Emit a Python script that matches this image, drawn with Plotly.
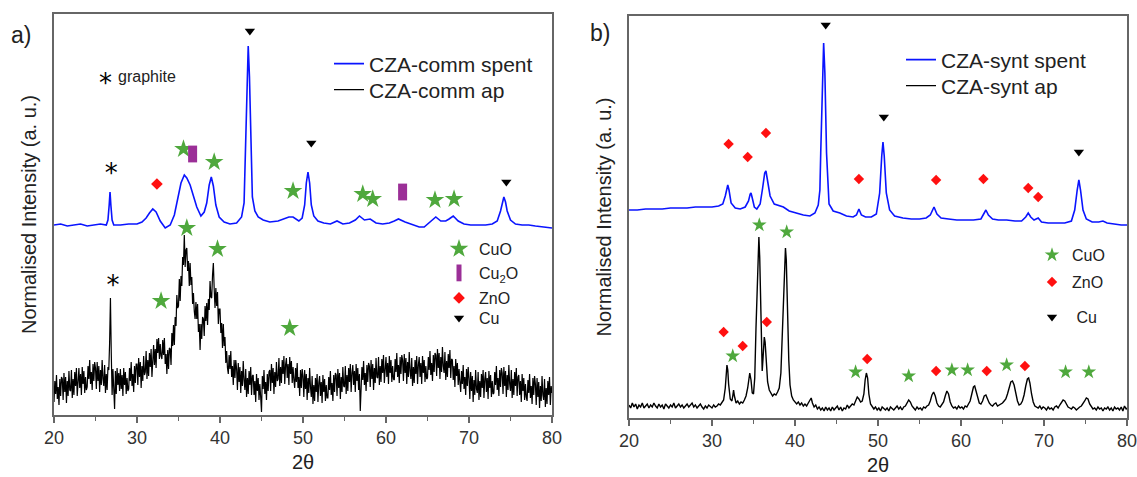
import numpy as np
import plotly.graph_objects as go

FONT = "Liberation Sans, Arial, sans-serif"
W, H = 1137, 477

# ---------------- a) CZA-comm ----------------
comm_spent_2theta = [
    20.0, 20.8, 21.6, 22.4, 23.2, 24.0, 24.8, 25.6, 26.3, 26.5, 26.65, 26.75, 26.85, 27.0, 27.2,
    28.0, 29.0, 30.0, 30.6, 31.1, 31.5, 31.9, 32.3, 32.8, 33.4, 34.0, 34.5, 34.9, 35.3, 35.7,
    36.0, 36.4, 36.8, 37.2, 37.7, 38.1, 38.4, 38.7, 38.95, 39.2, 39.5, 39.9, 40.5, 41.2, 42.0,
    42.6, 42.9, 43.1, 43.25, 43.4, 43.55, 43.7, 43.9, 44.2, 44.6, 45.2, 46.0, 47.0, 47.8, 48.3,
    48.8, 49.5, 49.9, 50.2, 50.4, 50.6, 50.8, 51.0, 51.3, 51.8, 52.5, 53.3, 54.1, 54.8, 55.6,
    56.3, 56.8, 57.4, 58.1, 58.8, 59.6, 60.4, 61.0, 61.5, 62.3, 63.2, 64.0, 64.6, 65.3, 66.0,
    66.6, 67.2, 67.6, 68.1, 68.7, 69.4, 70.2, 71.0, 72.0, 72.8, 73.4, 73.8, 74.0, 74.2, 74.4,
    74.6, 75.0, 75.6, 76.4, 77.2, 78.0, 79.0, 80.0,
]
comm_spent = [
    190, 191, 189, 190, 191, 189, 190, 191, 190, 195, 210, 223, 210, 195, 190,
    190, 191, 191, 193, 197, 202, 206, 203, 194, 187, 190, 200, 215, 232, 240,
    237, 230, 220, 208, 199, 203, 212, 230, 238, 229, 210, 198, 193, 191, 192,
    198, 212, 270, 338, 369, 338, 270, 218, 204, 198, 195, 193, 194, 196, 198,
    198, 194, 197, 210, 232, 243, 232, 210, 199, 194, 192, 191, 194, 191, 192,
    195, 199, 195, 196, 192, 191, 192, 194, 196, 193, 190, 188, 188, 193, 198,
    194, 194, 196, 199, 194, 191, 190, 190, 190, 191, 194, 204, 213, 218, 213,
    204, 195, 191, 190, 190, 189, 188, 187,
]

# as-prepared pattern, 0.1 deg step from 20 to 80 (one row per degree)
comm_ap_2theta = np.round(np.arange(20.0, 80.0001, 0.1), 1)
comm_ap = [
    13, 34, 21, 40, 16, 28, 10, 36, 19, 38,
    36, 15, 42, 23, 38, 12, 34, 19, 44, 25,
    24, 45, 17, 36, 20, 43, 29, 47, 19, 38,
    47, 27, 41, 20, 48, 31, 44, 22, 38, 25,
    28, 49, 36, 55, 31, 43, 25, 51, 34, 53,
    47, 26, 53, 34, 49, 23, 45, 30, 55, 36,
    29, 50, 22, 41, 25, 48, 45, 72, 117, 62,
    20, 46, 27, 6, 44, 21, 47, 30, 42, 24,
    46, 26, 40, 19, 47, 30, 43, 21, 37, 24,
    26, 47, 34, 53, 29, 41, 23, 49, 32, 51,
    51, 30, 57, 38, 53, 27, 49, 34, 59, 40,
    43, 64, 36, 55, 39, 62, 48, 66, 38, 57,
    70, 50, 66, 47, 76, 62, 77, 56, 71, 59,
    56, 75, 60, 77, 51, 61, 41, 65, 46, 67,
    66, 50, 82, 69, 90, 70, 98, 89, 120, 107,
    109, 136, 114, 139, 129, 158, 150, 180, 148, 165,
    167, 144, 154, 129, 152, 130, 138, 111, 122, 104,
    96, 113, 96, 111, 83, 91, 65, 91, 76, 98,
    96, 79, 109, 94, 112, 90, 116, 105, 134, 118,
    117, 140, 152, 126, 107, 127, 109, 123, 91, 106,
    106, 82, 92, 67, 91, 69, 78, 52, 64, 47,
    41, 60, 46, 64, 38, 49, 30, 55, 37, 55,
    46, 25, 52, 33, 48, 22, 44, 29, 54, 35,
    25, 46, 18, 37, 21, 44, 30, 48, 20, 39,
    40, 20, 34, 13, 41, 24, 37, 15, 31, 18,
    3, 39, 26, 45, 21, 33, 15, 41, 24, 43,
    45, 24, 51, 32, 47, 21, 43, 28, 53, 34,
    36, 57, 29, 48, 32, 55, 41, 59, 31, 50,
    57, 37, 51, 30, 58, 41, 54, 32, 48, 35,
    27, 47, 33, 52, 27, 38, 19, 45, 27, 46,
    39, 18, 45, 26, 41, 15, 37, 22, 47, 28,
    18, 39, 11, 30, 14, 37, 23, 41, 13, 32,
    39, 19, 33, 12, 40, 23, 36, 14, 30, 17,
    17, 38, 25, 44, 20, 32, 14, 40, 23, 42,
    40, 19, 46, 27, 42, 16, 38, 23, 48, 29,
    28, 49, 21, 40, 24, 47, 33, 51, 23, 42,
    50, 30, 44, 23, 51, 34, 47, 25, 41, 4,
    27, 48, 35, 54, 30, 42, 24, 50, 33, 52,
    49, 28, 55, 36, 51, 25, 47, 32, 57, 38,
    37, 58, 30, 49, 33, 56, 42, 60, 32, 51,
    58, 38, 52, 31, 59, 42, 55, 33, 49, 36,
    35, 56, 43, 62, 38, 50, 32, 58, 41, 60,
    55, 34, 61, 42, 57, 31, 53, 38, 63, 44,
    36, 57, 29, 48, 32, 55, 41, 59, 31, 50,
    58, 38, 52, 31, 59, 42, 55, 33, 49, 36,
    37, 58, 45, 64, 40, 52, 34, 60, 43, 62,
    60, 39, 66, 47, 62, 36, 58, 43, 68, 49,
    42, 63, 35, 54, 38, 61, 47, 65, 37, 56,
    55, 35, 49, 28, 56, 39, 52, 30, 46, 33,
    23, 44, 31, 50, 26, 38, 20, 46, 29, 48,
    37, 16, 43, 24, 39, 13, 35, 20, 45, 26,
    22, 43, 15, 34, 18, 41, 27, 45, 17, 36,
    43, 23, 37, 16, 44, 27, 40, 18, 34, 21,
    22, 43, 30, 49, 25, 37, 19, 45, 28, 47,
    42, 21, 48, 29, 44, 18, 40, 25, 50, 31,
    24, 45, 17, 36, 20, 43, 29, 47, 19, 38,
    40, 20, 34, 13, 41, 24, 37, 15, 31, 18,
    14, 35, 22, 41, 17, 29, 11, 37, 20, 39,
    31, 10, 37, 18, 33, 7, 29, 14, 39, 20,
    15, 36, 8, 27, 11, 34, 20, 38, 10, 29,
    22,
]

# phase reflections, panel a
cuo_a_2theta = [35.6, 39.3, 48.8, 57.2, 58.4, 65.9, 68.2, 36.0, 39.7, 32.9, 48.4]
cuo_a_int = [266, 253, 224, 221, 216, 215, 216, 187, 166, 114, 87]
cu2o_a_2theta = [36.7, 62.0]
cu2o_a_int = [261, 223]
zno_a_2theta = [32.4]
zno_a_int = [231]
cu_a_2theta = [43.6, 51.0, 74.5]
cu_a_int = [384, 272, 233]
graphite_a_2theta = [26.9, 27.1]
graphite_a_int = [240, 128]

# ---------------- b) CZA-synt ----------------
synt_spent_2theta = [
    20.0, 21.0, 22.0, 23.0, 24.0, 25.0, 26.0, 27.0, 28.0, 29.0, 30.0, 30.8, 31.3, 31.6, 31.8,
    31.9, 32.05, 32.3, 32.8, 33.4, 34.0, 34.4, 34.6, 34.7, 34.85, 35.1, 35.4, 35.8, 36.1, 36.35,
    36.5, 36.7, 37.0, 37.5, 38.2, 38.6, 39.3, 40.2, 41.0, 41.8, 42.4, 42.8, 43.0, 43.1, 43.3,
    43.45, 43.6, 43.8, 44.1, 44.6, 45.4, 46.2, 47.0, 47.4, 47.7, 48.0, 48.5, 49.2, 49.8, 50.2,
    50.45, 50.6, 50.75, 51.0, 51.4, 52.0, 53.0, 54.0, 55.0, 55.8, 56.3, 56.75, 57.1, 57.6, 58.5,
    59.5, 60.5, 61.5, 62.4, 62.7, 63.0, 63.3, 63.8, 64.5, 65.5, 66.5, 67.3, 67.8, 68.1, 68.4,
    68.8, 69.3, 69.7, 70.5, 71.5, 72.5, 73.3, 73.7, 74.0, 74.2, 74.4, 74.7, 75.1, 75.8, 76.6,
    77.1, 77.6, 78.5, 79.3, 80.0,
]
synt_spent = [
    208, 208, 209, 209, 209, 210, 210, 210, 211, 211, 211, 212, 214, 222, 231,
    233, 228, 215, 210, 209, 211, 217, 224, 225, 220, 211, 209, 214, 230, 245,
    247, 238, 222, 214, 212, 211, 207, 205, 203, 202, 205, 213, 228, 265, 345,
    375, 345, 265, 214, 207, 205, 202, 201, 203, 209, 203, 201, 201, 204, 225,
    262, 276, 262, 225, 208, 202, 200, 199, 199, 200, 203, 211, 204, 200, 199,
    198, 198, 198, 199, 203, 208, 203, 199, 198, 198, 197, 197, 201, 205, 201,
    198, 200, 196, 195, 195, 195, 197, 208, 228, 238, 228, 208, 199, 196, 196,
    197, 195, 194, 193, 193,
]

synt_ap_2theta = [
    20.0, 20.2, 20.4, 20.6, 20.8, 21.0, 21.2, 21.4, 21.6, 21.8, 22.0, 22.2, 22.4, 22.6, 22.8,
    23.0, 23.2, 23.4, 23.6, 23.8, 24.0, 24.2, 24.4, 24.6, 24.8, 25.0, 25.2, 25.4, 25.6, 25.8,
    26.0, 26.2, 26.4, 26.6, 26.8, 27.0, 27.2, 27.4, 27.6, 27.8, 28.0, 28.2, 28.4, 28.6, 28.8,
    29.0, 29.2, 29.4, 29.6, 29.8, 30.0, 30.2, 30.4, 30.6, 30.8, 31.0, 31.2, 31.4, 31.6, 31.7,
    31.8, 31.9, 32.0, 32.2, 32.4, 32.5, 32.6, 32.7, 32.9, 33.1, 33.3, 33.5, 33.7, 33.9, 34.1,
    34.3, 34.45, 34.55, 34.7, 34.85, 35.0, 35.15, 35.3, 35.45, 35.55, 35.65, 35.75, 35.85, 35.95, 36.05,
    36.15, 36.3, 36.4, 36.55, 36.7, 36.9, 37.1, 37.3, 37.5, 37.7, 37.9, 38.1, 38.3, 38.45, 38.6,
    38.75, 38.85, 38.95, 39.1, 39.25, 39.4, 39.6, 39.8, 40.0, 40.2, 40.4, 40.6, 40.8, 41.0, 41.2,
    41.4, 41.6, 41.8, 41.95, 42.1, 42.3, 42.5, 42.7, 42.9, 43.1, 43.3, 43.5, 43.7, 43.9, 44.1,
    44.3, 44.5, 44.7, 44.9, 45.1, 45.3, 45.5, 45.7, 45.9, 46.1, 46.3, 46.5, 46.7, 46.9, 47.1,
    47.3, 47.5, 47.7, 47.9, 48.1, 48.3, 48.45, 48.6, 48.75, 48.9, 49.1, 49.3, 49.5, 49.7, 49.9,
    50.1, 50.3, 50.5, 50.7, 50.9, 51.1, 51.3, 51.5, 51.7, 51.9, 52.1, 52.3, 52.5, 52.7, 52.9,
    53.1, 53.3, 53.5, 53.7, 53.9, 54.1, 54.3, 54.5, 54.7, 54.9, 55.1, 55.3, 55.5, 55.7, 55.9,
    56.1, 56.3, 56.5, 56.7, 56.9, 57.1, 57.3, 57.5, 57.7, 57.9, 58.1, 58.3, 58.5, 58.7, 58.9,
    59.1, 59.3, 59.5, 59.7, 59.9, 60.1, 60.3, 60.5, 60.7, 60.9, 61.1, 61.3, 61.5, 61.65, 61.8,
    62.0, 62.2, 62.4, 62.6, 62.8, 63.0, 63.2, 63.4, 63.6, 63.8, 64.0, 64.2, 64.4, 64.6, 64.8,
    65.0, 65.2, 65.4, 65.6, 65.8, 66.0, 66.2, 66.4, 66.6, 66.8, 67.0, 67.2, 67.4, 67.6, 67.8,
    68.0, 68.15, 68.3, 68.5, 68.7, 68.9, 69.1, 69.3, 69.5, 69.7, 69.9, 70.1, 70.3, 70.5, 70.7,
    70.9, 71.1, 71.3, 71.5, 71.7, 71.9, 72.1, 72.3, 72.5, 72.7, 72.9, 73.1, 73.3, 73.5, 73.7,
    73.9, 74.1, 74.3, 74.5, 74.7, 74.9, 75.1, 75.3, 75.5, 75.7, 75.9, 76.1, 76.3, 76.5, 76.7,
    76.9, 77.1, 77.3, 77.5, 77.7, 77.9, 78.1, 78.3, 78.5, 78.7, 78.9, 79.1, 79.3, 79.5, 79.7,
    79.9, 80.0,
]
synt_ap = [
    13, 10, 15, 11, 14, 9, 13, 11, 15, 10, 12, 14, 10, 13, 11,
    15, 12, 10, 14, 11, 13, 9, 14, 12, 10, 13, 11, 15, 10, 12,
    14, 11, 13, 10, 12, 14, 11, 13, 15, 11, 13, 10, 12, 14, 11,
    9, 12, 10, 13, 11, 10, 13, 11, 12, 14, 13, 15, 18, 30, 45,
    53, 48, 34, 19, 17, 22, 28, 22, 15, 17, 14, 16, 15, 18, 22,
    30, 42, 45, 38, 25, 24, 40, 90, 140, 170, 181, 160, 110, 62, 47,
    60, 81, 76, 52, 36, 28, 25, 22, 24, 23, 26, 30, 45, 80, 130,
    162, 170, 158, 105, 58, 33, 22, 18, 16, 14, 16, 13, 15, 12, 14,
    12, 15, 18, 20, 15, 11, 13, 9, 11, 8, 10, 7, 11, 8, 10,
    7, 11, 8, 10, 12, 8, 11, 7, 10, 9, 13, 10, 12, 14, 13,
    17, 21, 19, 16, 17, 24, 38, 45, 40, 24, 14, 12, 9, 11, 8,
    10, 7, 11, 9, 8, 10, 7, 11, 9, 8, 10, 12, 9, 11, 8,
    11, 12, 15, 18, 16, 12, 10, 8, 11, 9, 10, 8, 11, 10, 12,
    13, 17, 23, 26, 22, 15, 12, 11, 13, 16, 22, 27, 24, 16, 12,
    10, 11, 9, 12, 10, 11, 9, 12, 11, 14, 17, 24, 31, 32, 27,
    19, 15, 14, 17, 22, 23, 19, 15, 13, 12, 14, 15, 12, 13, 14,
    15, 17, 19, 24, 31, 36, 37, 33, 25, 17, 13, 14, 17, 23, 32,
    39, 40, 35, 24, 16, 12, 11, 10, 12, 9, 11, 10, 8, 11, 9,
    10, 8, 11, 12, 10, 13, 15, 18, 17, 14, 11, 10, 9, 11, 10,
    8, 10, 11, 12, 14, 17, 20, 19, 14, 11, 9, 10, 8, 11, 9,
    10, 7, 10, 9, 11, 8, 10, 7, 11, 9, 10, 8, 11, 7, 12,
    9, 10,
]

# phase reflections, panel b
cuo_b_2theta = [35.7, 39.0, 32.5, 47.3, 53.7, 58.9, 60.8, 65.5, 72.6, 75.4]
cuo_b_int = [193, 186, 62, 46, 42, 48, 48, 53, 46, 46]
zno_b_2theta = [32.0, 34.3, 36.5, 47.7, 57.0, 62.7, 68.1, 69.3, 31.4, 33.7, 36.6, 48.7, 57.0, 63.1, 67.7]
zno_b_int = [274, 261, 285, 239, 238, 239, 230, 221, 86, 72, 96, 59, 47, 47, 52]
cu_b_2theta = [43.7, 50.7, 74.2]
cu_b_int = [393, 301, 266]

BLUE = "#0a14ff"
GREEN = "#4fa83d"
PURPLE = "#9b2f97"
RED = "#ff1010"
FRAME = "#666666"
TXT = "#222222"

fig = go.Figure()

# pattern lines
fig.add_trace(go.Scatter(x=comm_spent_2theta, y=comm_spent, mode="lines", name="CZA-comm spent",
                         line=dict(color=BLUE, width=1.6), legend="legend"))
fig.add_trace(go.Scatter(x=comm_ap_2theta, y=comm_ap, mode="lines", name="CZA-comm ap",
                         line=dict(color="black", width=1.2), legend="legend2"))
fig.add_trace(go.Scatter(x=synt_spent_2theta, y=synt_spent, mode="lines", name="CZA-synt spent",
                         line=dict(color=BLUE, width=1.6), legend="legend7", xaxis="x2", yaxis="y2"))
fig.add_trace(go.Scatter(x=synt_ap_2theta, y=synt_ap, mode="lines", name="CZA-synt ap",
                         line=dict(color="black", width=1.4), legend="legend8", xaxis="x2", yaxis="y2"))

# reflection markers, panel a
fig.add_trace(go.Scatter(x=cuo_a_2theta, y=cuo_a_int, mode="markers", name="CuO", legend="legend3",
                         marker=dict(symbol="star", size=14, color=GREEN, line=dict(width=0))))
fig.add_trace(go.Scatter(x=cu2o_a_2theta, y=cu2o_a_int, mode="markers", name="Cu<sub>2</sub>O",
                         legend="legend4",
                         marker=dict(symbol="line-ns", size=12, color=PURPLE,
                                     line=dict(width=9, color=PURPLE))))
fig.add_trace(go.Scatter(x=zno_a_2theta, y=zno_a_int, mode="markers", name="ZnO", legend="legend5",
                         marker=dict(symbol="diamond", size=9, color=RED, line=dict(width=0))))
fig.add_trace(go.Scatter(x=cu_a_2theta, y=cu_a_int, mode="markers", name="Cu", legend="legend6",
                         marker=dict(symbol="triangle-down", size=9, color="black", line=dict(width=0))))
fig.add_trace(go.Scatter(x=graphite_a_2theta, y=graphite_a_int, mode="text", text=["*", "*"],
                         textfont=dict(family="DejaVu Sans", size=26, color="black"),
                         textposition="middle center", showlegend=False, hoverinfo="skip"))

# reflection markers, panel b
fig.add_trace(go.Scatter(x=cuo_b_2theta, y=cuo_b_int, mode="markers", name="CuO", legend="legend9",
                         xaxis="x2", yaxis="y2",
                         marker=dict(symbol="star", size=11, color=GREEN, line=dict(width=0))))
fig.add_trace(go.Scatter(x=zno_b_2theta, y=zno_b_int, mode="markers", name="ZnO", legend="legend10",
                         xaxis="x2", yaxis="y2",
                         marker=dict(symbol="diamond", size=8, color=RED, line=dict(width=0))))
fig.add_trace(go.Scatter(x=cu_b_2theta, y=cu_b_int, mode="markers", name=" Cu", legend="legend11",
                         xaxis="x2", yaxis="y2",
                         marker=dict(symbol="triangle-down", size=9, color="black", line=dict(width=0))))


def px_x(v):
    return v / W


def px_y(v):
    return 1 - v / H


def legend_at(xtext, ycenter, size):
    return dict(x=px_x(xtext - 42), y=px_y(ycenter), xanchor="left", yanchor="middle",
                bgcolor="rgba(0,0,0,0)", borderwidth=0,
                font=dict(family=FONT, size=size, color=TXT))


xaxis_common = dict(range=[20, 80], dtick=10, tick0=20, ticks="outside", ticklen=6, tickwidth=1.5,
                    tickcolor=FRAME, showline=True, linecolor=FRAME, linewidth=1.5, mirror=True,
                    showgrid=False, zeroline=False, automargin=False, ticklabeloverflow="allow",
                    tickfont=dict(family=FONT, size=18, color="#333333"),
                    minor=dict(dtick=5, ticks="outside", ticklen=4, tickwidth=1.2, tickcolor=FRAME),
                    title=dict(text="2θ", font=dict(family=FONT, size=20, color=TXT), standoff=8))
yaxis_common = dict(showline=True, linecolor=FRAME, linewidth=1.5, mirror=True, showgrid=False,
                    zeroline=False, showticklabels=False, ticks="", automargin=False,
                    title=dict(text="Normalised Intensity (a. u.)",
                               font=dict(family=FONT, size=20, color=TXT), standoff=10))

fig.update_layout(
    width=W, height=H, margin=dict(l=0, r=0, t=0, b=0, autoexpand=False),
    paper_bgcolor="white", plot_bgcolor="white",
    font=dict(family=FONT, color=TXT),
    xaxis=dict(domain=[54 / W, 552 / W], anchor="y", **xaxis_common),
    yaxis=dict(domain=[62 / H, 463 / H], range=[0, 401], anchor="x", **yaxis_common),
    xaxis2=dict(domain=[629 / W, 1127 / W], anchor="y2", **xaxis_common),
    yaxis2=dict(domain=[59 / H, 461 / H], range=[0, 402], anchor="x2", **yaxis_common),
    legend=legend_at(371, 64, 21),
    legend2=legend_at(371, 90, 21),
    legend3=legend_at(481, 249, 16),
    legend4=legend_at(481, 273, 16),
    legend5=legend_at(481, 298, 16),
    legend6=legend_at(481, 318, 16),
    legend7=legend_at(943, 60, 21),
    legend8=legend_at(943, 86, 21),
    legend9=legend_at(1074, 255, 16),
    legend10=legend_at(1074, 282, 16),
    legend11=legend_at(1074, 317, 16),
    annotations=[
        dict(text="a)", x=px_x(21), y=px_y(35), xref="paper", yref="paper", showarrow=False,
             font=dict(family=FONT, size=23, color=TXT), xanchor="center", yanchor="middle"),
        dict(text="b)", x=px_x(600), y=px_y(33), xref="paper", yref="paper", showarrow=False,
             font=dict(family=FONT, size=23, color=TXT), xanchor="center", yanchor="middle"),
        dict(text="*", x=px_x(105), y=px_y(78), xref="paper", yref="paper", showarrow=False,
             yshift=-5, font=dict(family="DejaVu Sans", size=26, color="black"),
             xanchor="center", yanchor="middle"),
        dict(text="graphite", x=px_x(116), y=px_y(76), xref="paper", yref="paper", showarrow=False,
             font=dict(family=FONT, size=16, color=TXT), xanchor="left", yanchor="middle"),
    ],
)

fig.write_html("out.html")
